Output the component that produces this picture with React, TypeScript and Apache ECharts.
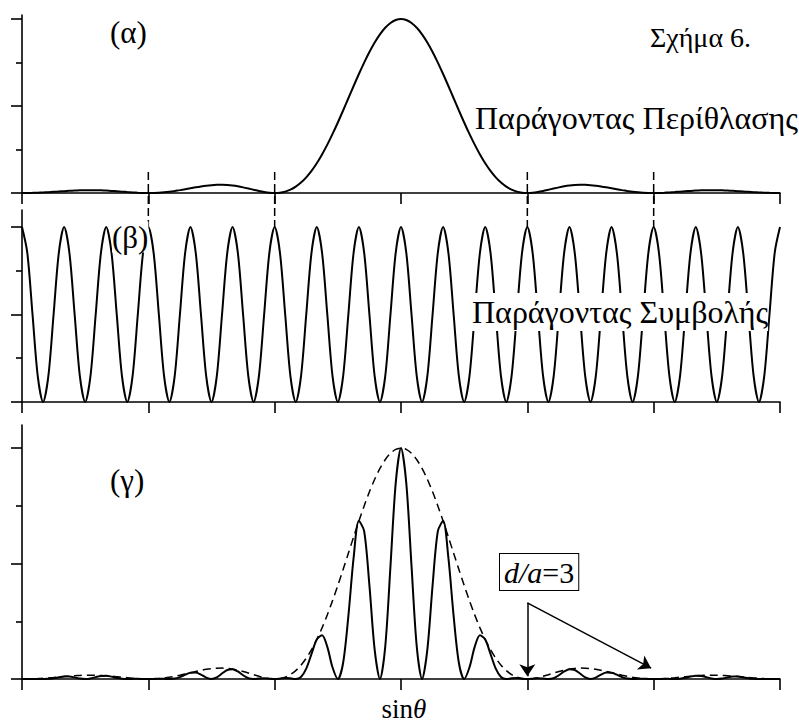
import React, { useEffect, useRef } from "react";
import * as echarts from "echarts";

// sinθ sample positions, in 24ths of a diffraction-zero spacing
const SIN_THETA_24THS = [
  -72, -71, -70, -69, -68, -67, -66, -65, -64, -63, -62, -61,
  -60, -59, -58, -57, -56, -55, -54, -53, -52, -51, -50, -49,
  -48, -47, -46, -45, -44, -43, -42, -41, -40, -39, -38, -37,
  -36, -35, -34, -33, -32, -31, -30, -29, -28, -27, -26, -25,
  -24, -23, -22, -21, -20, -19, -18, -17, -16, -15, -14, -13,
  -12, -11, -10, -9, -8, -7, -6, -5, -4, -3, -2, -1,
  0,
  1, 2, 3, 4, 5, 6, 7, 8, 9, 10, 11, 12,
  13, 14, 15, 16, 17, 18, 19, 20, 21, 22, 23, 24,
  25, 26, 27, 28, 29, 30, 31, 32, 33, 34, 35, 36,
  37, 38, 39, 40, 41, 42, 43, 44, 45, 46, 47, 48,
  49, 50, 51, 52, 53, 54, 55, 56, 57, 58, 59, 60,
  61, 62, 63, 64, 65, 66, 67, 68, 69, 70, 71, 72,
];

// (α) diffraction factor
const DIFFRACTION = [
  0, 0.0002, 0.0008, 0.0018, 0.0032, 0.0048, 0.0067, 0.0087, 0.0107, 0.0126, 0.0142, 0.0154,
  0.0162, 0.0165, 0.0162, 0.0153, 0.014, 0.0121, 0.01, 0.0077, 0.0054, 0.0033, 0.0016, 0.0004,
  0, 0.0005, 0.0018, 0.0042, 0.0075, 0.0117, 0.0165, 0.0219, 0.0274, 0.0328, 0.0377, 0.0419,
  0.045, 0.0468, 0.0471, 0.0457, 0.0427, 0.0382, 0.0324, 0.0257, 0.0186, 0.0117, 0.0058, 0.0016,
  0, 0.0019, 0.0081, 0.0194, 0.0365, 0.0599, 0.0901, 0.1271, 0.171, 0.2214, 0.2778, 0.3394,
  0.4053, 0.4741, 0.5445, 0.615, 0.6839, 0.7496, 0.8106, 0.8651, 0.9119, 0.9496, 0.9774, 0.9943,
  1,
  0.9943, 0.9774, 0.9496, 0.9119, 0.8651, 0.8106, 0.7496, 0.6839, 0.615, 0.5445, 0.4741, 0.4053,
  0.3394, 0.2778, 0.2214, 0.171, 0.1271, 0.0901, 0.0599, 0.0365, 0.0194, 0.0081, 0.0019, 0,
  0.0016, 0.0058, 0.0117, 0.0186, 0.0257, 0.0324, 0.0382, 0.0427, 0.0457, 0.0471, 0.0468, 0.045,
  0.0419, 0.0377, 0.0328, 0.0274, 0.0219, 0.0165, 0.0117, 0.0075, 0.0042, 0.0018, 0.0005, 0,
  0.0004, 0.0016, 0.0033, 0.0054, 0.0077, 0.01, 0.0121, 0.014, 0.0153, 0.0162, 0.0165, 0.0162,
  0.0154, 0.0142, 0.0126, 0.0107, 0.0087, 0.0067, 0.0048, 0.0032, 0.0018, 0.0008, 0.0002, 0,
];

// (β) interference factor
const INTERFERENCE = [
  1, 0.854, 0.5, 0.146, 0, 0.146, 0.5, 0.854,
  1, 0.854, 0.5, 0.146, 0, 0.146, 0.5, 0.854,
  1, 0.854, 0.5, 0.146, 0, 0.146, 0.5, 0.854,
  1, 0.854, 0.5, 0.146, 0, 0.146, 0.5, 0.854,
  1, 0.854, 0.5, 0.146, 0, 0.146, 0.5, 0.854,
  1, 0.854, 0.5, 0.146, 0, 0.146, 0.5, 0.854,
  1, 0.854, 0.5, 0.146, 0, 0.146, 0.5, 0.854,
  1, 0.854, 0.5, 0.146, 0, 0.146, 0.5, 0.854,
  1, 0.854, 0.5, 0.146, 0, 0.146, 0.5, 0.854,
  1, 0.854, 0.5, 0.146, 0, 0.146, 0.5, 0.854,
  1, 0.854, 0.5, 0.146, 0, 0.146, 0.5, 0.854,
  1, 0.854, 0.5, 0.146, 0, 0.146, 0.5, 0.854,
  1, 0.854, 0.5, 0.146, 0, 0.146, 0.5, 0.854,
  1, 0.854, 0.5, 0.146, 0, 0.146, 0.5, 0.854,
  1, 0.854, 0.5, 0.146, 0, 0.146, 0.5, 0.854,
  1, 0.854, 0.5, 0.146, 0, 0.146, 0.5, 0.854,
  1, 0.854, 0.5, 0.146, 0, 0.146, 0.5, 0.854,
  1, 0.854, 0.5, 0.146, 0, 0.146, 0.5, 0.854,
  1,
];

// (γ) resulting intensity
const INTENSITY = [
  0, 0.0002, 0.0004, 0.0003, 0, 0.0007, 0.0034, 0.0074, 0.0107, 0.0108, 0.0071, 0.0022,
  0, 0.0024, 0.0081, 0.0131, 0.014, 0.0103, 0.005, 0.0011, 0, 0.0005, 0.0008, 0.0003,
  0, 0.0004, 0.0009, 0.0006, 0, 0.0017, 0.0083, 0.0187, 0.0274, 0.028, 0.0189, 0.0061,
  0, 0.0068, 0.0236, 0.039, 0.0427, 0.0326, 0.0162, 0.0038, 0, 0.0017, 0.0029, 0.0014,
  0, 0.0016, 0.0041, 0.0028, 0, 0.0087, 0.0451, 0.1085, 0.171, 0.1891, 0.1389, 0.0496,
  0, 0.0692, 0.2723, 0.5252, 0.6839, 0.6402, 0.4053, 0.1263, 0, 0.1386, 0.4887, 0.8491,
  1,
  0.8491, 0.4887, 0.1386, 0, 0.1263, 0.4053, 0.6402, 0.6839, 0.5252, 0.2723, 0.0692, 0,
  0.0496, 0.1389, 0.1891, 0.171, 0.1085, 0.0451, 0.0087, 0, 0.0028, 0.0041, 0.0016, 0,
  0.0014, 0.0029, 0.0017, 0, 0.0038, 0.0162, 0.0326, 0.0427, 0.039, 0.0236, 0.0068, 0,
  0.0061, 0.0189, 0.028, 0.0274, 0.0187, 0.0083, 0.0017, 0, 0.0006, 0.0009, 0.0004, 0,
  0.0003, 0.0008, 0.0005, 0, 0.0011, 0.005, 0.0103, 0.014, 0.0131, 0.0081, 0.0024, 0,
  0.0022, 0.0071, 0.0108, 0.0107, 0.0074, 0.0034, 0.0007, 0, 0.0003, 0.0004, 0.0002, 0,
];

const X_MIN = -3;
const X_MAX = 3;
const X_INTERVAL = 1;
const Y_MAJOR_TICKS = [0, 0.5, 1];
const Y_MINOR_TICKS = [0.25, 0.75];
const Y_MAX = [1.023, 1.097, 1.1];
const MISSING_ORDERS = [-2, -1, 1, 2];
const ARROW_FROM = [1, 0.33];
const ARROW_TO = [
  [1, 0.012],
  [1.98, 0.047],
];

const SERIF = "'Liberation Serif', 'Times New Roman', serif";

export default function App() {
  const ref = useRef<HTMLDivElement>(null);

  useEffect(() => {
    if (!ref.current) return;
    const chart = echarts.init(ref.current, undefined, { renderer: "svg" });

    const toPairs = (ys: number[]) => SIN_THETA_24THS.map((k, i) => [k / 24, ys[i]]);

    const grids = [
      { left: 22, right: 19, top: 15, height: 178 },
      { left: 22, right: 19, top: 210, height: 192 },
      { left: 22, right: 19, top: 425, height: 254 },
    ];

    const xAxes = grids.map((_, i) => ({
      type: "value",
      gridIndex: i,
      min: X_MIN,
      max: X_MAX,
      interval: X_INTERVAL,
      axisLine: { show: true, onZero: false, lineStyle: { color: "#000", width: 1.6 } },
      axisTick: { show: true, inside: false, length: 11, lineStyle: { color: "#000", width: 1.6 } },
      axisLabel: { show: false },
      splitLine: { show: false },
    }));

    const yAxes: any[] = [];
    grids.forEach((_, i) => {
      yAxes.push({
        type: "value",
        gridIndex: i,
        min: 0,
        max: Y_MAX[i],
        position: "left",
        axisLine: { show: true, onZero: false, lineStyle: { color: "#000", width: 1.6 } },
        axisTick: {
          show: true,
          inside: false,
          length: 11,
          customValues: Y_MAJOR_TICKS,
          lineStyle: { color: "#000", width: 1.6 },
        },
        axisLabel: { show: false },
        splitLine: { show: false },
      });
      yAxes.push({
        type: "value",
        gridIndex: i,
        min: 0,
        max: Y_MAX[i],
        position: "left",
        axisLine: { show: false, onZero: false },
        axisTick: {
          show: true,
          inside: false,
          length: 6,
          customValues: Y_MINOR_TICKS,
          lineStyle: { color: "#000", width: 1.6 },
        },
        axisLabel: { show: false },
        splitLine: { show: false },
      });
    });

    const lineBase = {
      type: "line",
      showSymbol: false,
      symbol: "none",
      smooth: 0.3,
      silent: true,
      clip: true,
    };

    chart.setOption({
      animation: false,
      backgroundColor: "#fff",
      grid: grids,
      xAxis: xAxes,
      yAxis: yAxes,
      series: [
        {
          ...lineBase,
          xAxisIndex: 0,
          yAxisIndex: 0,
          data: toPairs(DIFFRACTION),
          lineStyle: { color: "#000", width: 2 },
        },
        {
          ...lineBase,
          xAxisIndex: 1,
          yAxisIndex: 2,
          data: toPairs(INTERFERENCE),
          lineStyle: { color: "#000", width: 2 },
        },
        {
          ...lineBase,
          xAxisIndex: 2,
          yAxisIndex: 4,
          data: toPairs(DIFFRACTION),
          lineStyle: { color: "#000", width: 1.5, type: [8, 5] },
        },
        {
          ...lineBase,
          xAxisIndex: 2,
          yAxisIndex: 4,
          data: toPairs(INTENSITY),
          lineStyle: { color: "#000", width: 2 },
          markLine: {
            silent: true,
            symbol: ["none", "arrow"],
            symbolSize: 12,
            label: { show: false },
            lineStyle: { color: "#000", width: 1.5, type: "solid" },
            emphasis: { disabled: true },
            data: ARROW_TO.map((t) => [{ coord: ARROW_FROM }, { coord: t }]),
          },
        },
      ],
    });

    const px = (gi: number, x: number, y: number) =>
      chart.convertToPixel({ xAxisIndex: gi, yAxisIndex: gi * 2 } as any, [x, y]) as number[];

    const dashLines = MISSING_ORDERS.map((m) => {
      const a = px(0, m, 0.12);
      const b = px(1, m, 1.0);
      return {
        type: "line",
        z: 50,
        silent: true,
        shape: { x1: a[0], y1: a[1], x2: b[0], y2: b[1] },
        style: { stroke: "#000", lineWidth: 1.5, lineDash: [8, 4] },
      };
    });

    const txt = (text: string, x: number, y: number, size: number, extra: any = {}) => ({
      type: "text",
      z: 100,
      silent: true,
      style: {
        text,
        x,
        y,
        fontFamily: SERIF,
        fontSize: size,
        fill: "#000",
        verticalAlign: "middle",
        ...extra,
      },
    });

    chart.setOption({
      graphic: [
        ...dashLines,
        txt("(α)", 110, 32, 31),
        txt("Σχήμα 6.", 650, 37, 28),
        txt("Παράγοντας Περίθλασης", 475, 118, 32),
        txt("(β)", 112, 237, 31, { backgroundColor: "#fff" }),
        txt("Παράγοντας Συμβολής", 472, 312, 32, { backgroundColor: "#fff", padding: [3, 0, 3, 0] }),
        txt("(γ)", 110, 480, 31),
        txt("{a|sin}{b|θ}", 404, 709, 27, {
          align: "center",
          rich: {
            a: { fontFamily: SERIF, fontSize: 27, fill: "#000" },
            b: { fontFamily: SERIF, fontSize: 27, fontStyle: "italic", fill: "#000" },
          },
        }),
        txt("{i|d/a}=3", 500, 572, 30, {
          borderColor: "#000",
          borderWidth: 1,
          padding: [3, 4, 3, 4],
          backgroundColor: "#fff",
          rich: {
            i: { fontFamily: SERIF, fontSize: 30, fontStyle: "italic", fill: "#000" },
          },
        }),
      ],
    });

    return () => chart.dispose();
  }, []);

  return (
    <div
      ref={ref}
      style={{ position: "fixed", left: 0, top: 0, width: 799, height: 727, background: "#fff" }}
    />
  );
}
